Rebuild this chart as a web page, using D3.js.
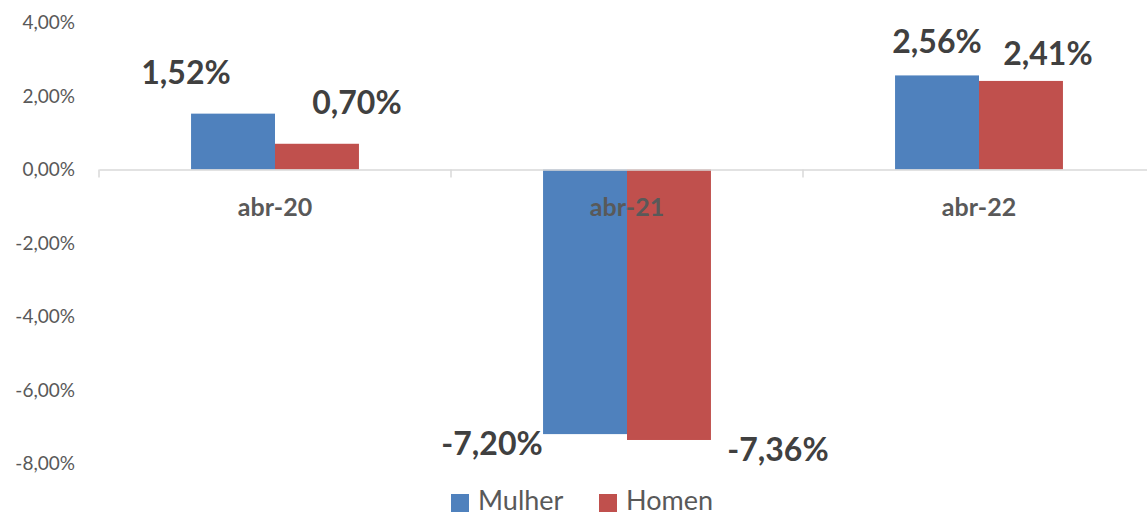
<!DOCTYPE html>
<html>
<head>
<meta charset="utf-8">
<script src="https://cdn.jsdelivr.net/npm/d3@7"></script>
<style>
  body { margin: 0; background: #fff; }
  svg text { font-family: Lato, "Open Sans", sans-serif; }
</style>
</head>
<body>
<div id="chart"></div>
<script>
var categories = ["abr-20", "abr-21", "abr-22"];
var seriesNames = ["Mulher", "Homen"];
var mulher = [1.52, -7.20, 2.56];
var homen = [0.70, -7.36, 2.41];
var yTicks = [-8, -6, -4, -2, 0, 2, 4];
var colors = ["#4F81BD", "#C0504D"];

// manual label nudges (labels were dragged in the original)
var labelDx = [[-47, -93, 0], [40, 109, 27]];
var labelDy = [[-30, 21, -22], [-30, 21, -16]];

var width = 1147, height = 515;

var svg = d3.select("#chart").append("svg")
    .attr("width", width)
    .attr("height", height);

var locale = d3.formatLocale({decimal: ",", thousands: ".", grouping: [3], currency: ["", ""], minus: "-"});
var fmt = locale.format(".2f");

var y = d3.scaleLinear().domain([-8, 4]).range([463.5, 22.5]);
var x = d3.scaleBand().domain(categories).range([99, 1155])
    .paddingInner(0.523).paddingOuter(0.2615);
var xs = d3.scaleBand().domain(seriesNames).range([0, x.bandwidth()]);

// y tick labels (no axis line, no gridlines)
svg.append("g").selectAll("text")
    .data(yTicks)
    .enter().append("text")
    .attr("x", 75)
    .attr("y", function(d) { return y(d); })
    .attr("dy", "0.36em")
    .attr("text-anchor", "end")
    .attr("fill", "#595959")
    .style("font-size", "19px")
    .text(function(d) { return fmt(d) + "%"; });

var series = [mulher, homen];

series.forEach(function(vals, si) {
    svg.append("g").selectAll("rect")
        .data(vals)
        .enter().append("rect")
        .attr("x", function(d, i) { return x(categories[i]) + xs(seriesNames[si]); })
        .attr("y", function(d) { return y(Math.max(0, d)); })
        .attr("width", xs.bandwidth())
        .attr("height", function(d) { return Math.abs(y(d) - y(0)); })
        .attr("fill", colors[si]);
});

// category axis line with ticks between categories
var xAxis = d3.axisBottom(x).tickSize(0).tickFormat("");
var gx = svg.append("g").attr("transform", "translate(0," + y(0) + ")").call(xAxis);
gx.select(".domain").attr("stroke", "#d9d9d9").attr("stroke-width", 1.5);
var bounds = [99].concat(categories.map(function(c) { return x(c) + x.bandwidth() + x.step() * x.paddingInner() / 2; }));
gx.selectAll(".sep").data(bounds).enter().append("line")
    .attr("class", "sep")
    .attr("x1", function(d) { return d; }).attr("x2", function(d) { return d; })
    .attr("y1", 0).attr("y2", 8)
    .attr("stroke", "#d9d9d9").attr("stroke-width", 1.5);

// category labels
svg.append("g").selectAll("text")
    .data(categories)
    .enter().append("text")
    .attr("x", function(d) { return x(d) + x.bandwidth() / 2; })
    .attr("y", 216)
    .attr("text-anchor", "middle")
    .attr("fill", "#595959")
    .style("font-size", "25px")
    .style("font-weight", "bold")
    .text(function(d) { return d; });

// data labels
series.forEach(function(vals, si) {
    svg.append("g").selectAll("text")
        .data(vals)
        .enter().append("text")
        .attr("x", function(d, i) { return x(categories[i]) + xs(seriesNames[si]) + xs.bandwidth() / 2 + labelDx[si][i]; })
        .attr("y", function(d, i) { return y(d) + labelDy[si][i]; })
        .attr("text-anchor", "middle")
        .attr("fill", "#404040")
        .style("font-size", "32px")
        .style("font-weight", "bold")
        .text(function(d) { return fmt(d) + "%"; });
});

// legend
var legendX = [451, 599];
var lg = svg.append("g").selectAll("g")
    .data(seriesNames)
    .enter().append("g")
    .attr("transform", function(d, i) { return "translate(" + legendX[i] + ",494)"; });
lg.append("rect")
    .attr("width", 18).attr("height", 18)
    .attr("fill", function(d, i) { return colors[i]; });
lg.append("text")
    .attr("x", 27).attr("y", 16)
    .attr("fill", "#595959")
    .style("font-size", "27px")
    .text(function(d) { return d; });
</script>
</body>
</html>
